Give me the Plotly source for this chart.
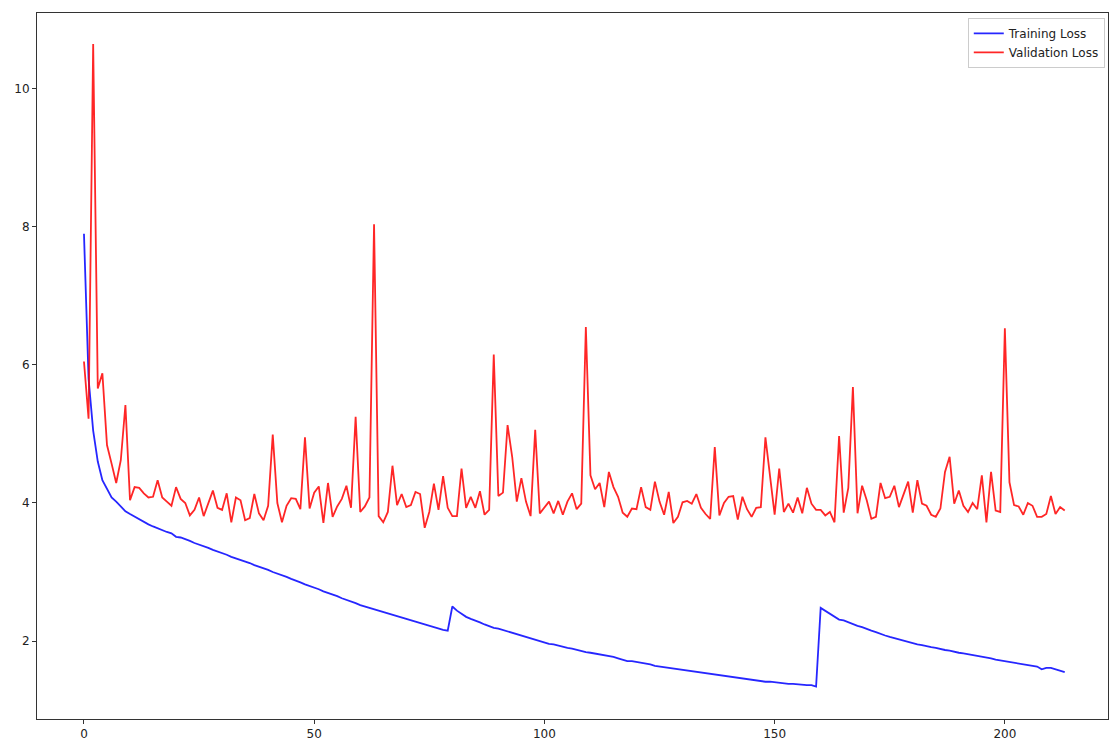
import plotly.graph_objects as go

epochs = list(range(214))

training_loss = [
    7.90, 5.80, 5.05, 4.60, 4.33, 4.20, 4.08, 4.02, 3.95, 3.88,
    3.84, 3.80, 3.76, 3.72, 3.69, 3.66, 3.63, 3.60, 3.58, 3.56,
    3.51, 3.50, 3.48, 3.45, 3.42, 3.40, 3.37, 3.35, 3.32, 3.30,
    3.27, 3.25, 3.22, 3.20, 3.18, 3.15, 3.13, 3.10, 3.08, 3.05,
    3.03, 3.00, 2.98, 2.95, 2.93, 2.90, 2.88, 2.85, 2.82, 2.80,
    2.77, 2.75, 2.72, 2.70, 2.67, 2.65, 2.62, 2.60, 2.57, 2.55,
    2.52, 2.50, 2.48, 2.46, 2.43, 2.41, 2.39, 2.37, 2.35, 2.33,
    2.32, 2.30, 2.28, 2.26, 2.24, 2.22, 2.20, 2.18, 2.16, 2.15,
    2.50, 2.44, 2.39, 2.35, 2.32, 2.30, 2.27, 2.24, 2.21, 2.19,
    2.18, 2.16, 2.14, 2.11, 2.09, 2.07, 2.05, 2.03, 2.01, 2.00,
    1.98, 1.96, 1.95, 1.93, 1.91, 1.90, 1.89, 1.87, 1.86, 1.84,
    1.83, 1.82, 1.80, 1.79, 1.78, 1.77, 1.75, 1.73, 1.71, 1.71,
    1.70, 1.68, 1.67, 1.66, 1.64, 1.63, 1.62, 1.61, 1.60, 1.59,
    1.58, 1.57, 1.56, 1.55, 1.54, 1.53, 1.52, 1.51, 1.50, 1.49,
    1.48, 1.47, 1.46, 1.45, 1.44, 1.43, 1.42, 1.42, 1.41, 1.41,
    1.40, 1.40, 1.39, 1.38, 1.38, 1.37, 1.37, 1.36, 1.36, 1.34,
    2.48, 2.44, 2.40, 2.35, 2.31, 2.30, 2.27, 2.25, 2.22, 2.20,
    2.17, 2.15, 2.13, 2.10, 2.08, 2.06, 2.04, 2.02, 2.00, 1.98,
    1.96, 1.95, 1.94, 1.92, 1.91, 1.90, 1.88, 1.87, 1.86, 1.84,
    1.83, 1.82, 1.81, 1.80, 1.78, 1.77, 1.76, 1.75, 1.73, 1.72,
    1.71, 1.70, 1.68, 1.67, 1.66, 1.65, 1.64, 1.63, 1.59, 1.61,
    1.61, 1.59, 1.57, 1.55,
]

validation_loss = [
    6.05, 5.22, 10.65, 5.66, 5.88, 4.84, 4.57, 4.29, 4.62, 5.42,
    4.04, 4.23, 4.22, 4.14, 4.08, 4.09, 4.33, 4.08, 4.02, 3.96,
    4.23, 4.06, 4.00, 3.82, 3.90, 4.08, 3.81, 3.99, 4.18, 3.93,
    3.90, 4.14, 3.72, 4.08, 4.04, 3.75, 3.78, 4.13, 3.85, 3.75,
    3.96, 4.99, 4.00, 3.72, 3.96, 4.07, 4.06, 3.91, 4.95, 3.92,
    4.15, 4.24, 3.71, 4.29, 3.80, 3.95, 4.06, 4.25, 3.93, 5.25,
    3.87, 3.95, 4.08, 8.04, 3.81, 3.72, 3.87, 4.54, 3.97, 4.13,
    3.94, 3.97, 4.16, 4.13, 3.64, 3.87, 4.28, 3.90, 4.39, 3.93,
    3.81, 3.81, 4.50, 3.93, 4.09, 3.93, 4.17, 3.83, 3.90, 6.15,
    4.10, 4.15, 5.13, 4.67, 4.02, 4.36, 4.02, 3.81, 5.06, 3.85,
    3.93, 4.02, 3.85, 4.03, 3.83, 4.02, 4.14, 3.91, 3.99, 6.55,
    4.40, 4.20, 4.29, 3.94, 4.45, 4.23, 4.09, 3.86, 3.80, 3.92,
    3.91, 4.23, 3.94, 3.90, 4.31, 4.02, 3.83, 4.16, 3.71, 3.80,
    4.01, 4.03, 3.99, 4.13, 3.93, 3.84, 3.77, 4.81, 3.82, 4.00,
    4.09, 4.10, 3.76, 4.09, 3.91, 3.80, 3.93, 3.94, 4.95, 4.36,
    3.83, 4.50, 3.87, 3.99, 3.86, 4.08, 3.85, 4.22, 3.99, 3.90,
    3.90, 3.82, 3.87, 3.72, 4.97, 3.86, 4.22, 5.68, 3.85, 4.25,
    4.04, 3.77, 3.80, 4.29, 4.07, 4.09, 4.25, 3.94, 4.14, 4.31,
    3.86, 4.33, 3.99, 3.96, 3.83, 3.80, 3.92, 4.45, 4.67, 3.99,
    4.18, 3.96, 3.87, 4.00, 3.91, 4.40, 3.72, 4.45, 3.89, 3.87,
    6.53, 4.30, 3.97, 3.95, 3.83, 4.00, 3.96, 3.80, 3.80, 3.84,
    4.10, 3.84, 3.94, 3.89,
]

x_ticks = [0, 50, 100, 150, 200]
y_ticks = [2, 4, 6, 8, 10]

fig = go.Figure()
fig.add_trace(go.Scatter(
    x=epochs, y=training_loss, mode="lines", name="Training Loss",
    line=dict(color="rgba(0,0,255,0.85)", width=1.8),
))
fig.add_trace(go.Scatter(
    x=epochs, y=validation_loss, mode="lines", name="Validation Loss",
    line=dict(color="rgba(255,0,0,0.85)", width=1.8),
))

axis_common = dict(
    showgrid=False, zeroline=False, showline=True, linecolor="#333333",
    linewidth=1, mirror=True, ticks="outside", ticklen=4, tickwidth=1,
    tickcolor="#333333", tickfont=dict(family="DejaVu Sans", size=12, color="#222222"),
)

fig.update_layout(
    width=1110, height=742,
    margin=dict(l=37, r=2, t=13, b=23),
    paper_bgcolor="white", plot_bgcolor="white",
    font=dict(family="DejaVu Sans", size=12, color="#222222"),
    xaxis=dict(range=[-10.2, 222.4], tickvals=x_ticks, **axis_common),
    yaxis=dict(range=[0.87, 11.1], tickvals=y_ticks, **axis_common),
    legend=dict(
        x=0.997, y=0.993, xanchor="right", yanchor="top",
        bgcolor="white", bordercolor="#cccccc", borderwidth=1,
        font=dict(family="DejaVu Sans", size=12, color="#222222"),
        tracegroupgap=0, itemwidth=30,
    ),
    showlegend=True,
)

fig.write_html(
    "out.html",
    config={"displayModeBar": False},
    post_script="document.body.style.margin='0px';document.body.style.overflow='hidden';",
)
